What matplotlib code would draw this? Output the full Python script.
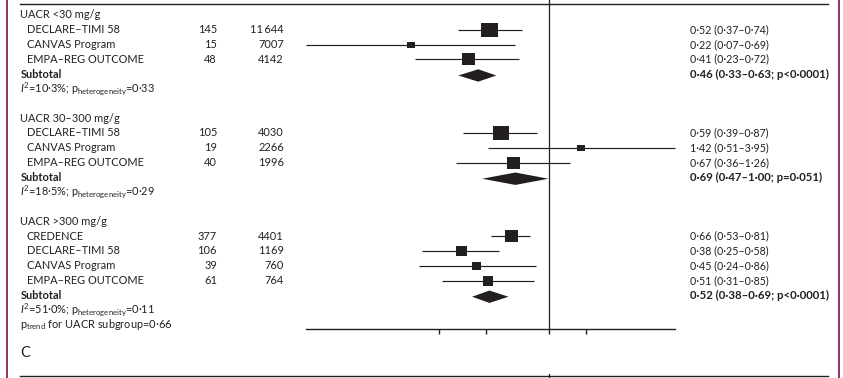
import matplotlib
matplotlib.use("Agg")
import matplotlib.pyplot as plt
from matplotlib.transforms import blended_transform_factory
from matplotlib.patches import Polygon
from matplotlib.lines import Line2D
from matplotlib.path import Path

# ---------------- data ----------------
group_titles = ["UACR <30 mg/g", "UACR 30–300 mg/g", "UACR >300 mg/g"]

g1_studies = ["DECLARE–TIMI 58", "CANVAS Program", "EMPA–REG OUTCOME"]
g1_events = [145, 15, 48]
g1_total = [11644, 7007, 4142]
g1_hr = [0.52, 0.22, 0.41]
g1_lo = [0.37, 0.07, 0.23]
g1_hi = [0.74, 0.69, 0.72]
g1_weight = [17, 8, 13]

g2_studies = ["DECLARE–TIMI 58", "CANVAS Program", "EMPA–REG OUTCOME"]
g2_events = [105, 19, 40]
g2_total = [4030, 2266, 1996]
g2_hr = [0.59, 1.42, 0.67]
g2_lo = [0.39, 0.51, 0.36]
g2_hi = [0.87, 3.95, 1.26]
g2_weight = [16.5, 8, 13]

g3_studies = ["CREDENCE", "DECLARE–TIMI 58", "CANVAS Program", "EMPA–REG OUTCOME"]
g3_events = [377, 106, 39, 61]
g3_total = [4401, 1169, 760, 764]
g3_hr = [0.66, 0.38, 0.45, 0.51]
g3_lo = [0.53, 0.25, 0.24, 0.31]
g3_hi = [0.81, 0.58, 0.86, 0.85]
g3_weight = [13, 11, 9, 10.5]

sub_hr = [0.46, 0.69, 0.52]
sub_lo = [0.33, 0.47, 0.38]
sub_hi = [0.63, 1.00, 0.69]
sub_p = ["p<0·0001", "p=0·051", "p<0·0001"]
diamond_lo = [0.37, 0.48, 0.43]   # drawn extents
diamond_hi = [0.56, 0.99, 0.64]
i2 = [10.3, 18.5, 51.0]
p_het = [0.33, 0.29, 0.11]
p_trend = 0.66
x_ticks = [0.3, 0.5, 1.0, 1.5]
panel_letter = "C"

# ---------------- style ----------------
plt.rcParams["font.family"] = ["Lato", "DejaVu Sans"]
plt.rcParams["mathtext.fontset"] = "custom"
plt.rcParams["mathtext.rm"] = "Lato"
plt.rcParams["mathtext.it"] = "Lato:italic"
plt.rcParams["mathtext.bf"] = "Lato:bold"
TXT = "#231f20"
MAROON = "#8a2350"
FS = 7.9

W, H = 843, 378
fig = plt.figure(figsize=(W / 100, H / 100), dpi=100)


def fx(px):
    return px / W


def fy(py):
    return 1 - py / H


def fmt(v, d=2):
    return f"{v:.{d}f}".replace(".", "·")


def fmt_int(v):
    s = str(v)
    if len(s) > 4:
        s = s[:-3] + "\u2009" + s[-3:]
    return s


ax_l, ax_r, ax_t, ax_b = 306, 675, 0, 329
ax = fig.add_axes([fx(ax_l), fy(ax_b), (ax_r - ax_l) / W, (ax_b - ax_t) / H])
ax.set_xscale("log")
ax.set_xlim(min(g1_lo + g2_lo + g3_lo), max(g1_hi + g2_hi + g3_hi))
row0, row_h = 15.0, 14.75
ax.set_ylim((ax_b - row0) / row_h, (ax_t - row0) / row_h)
for s in ["top", "right", "left"]:
    ax.spines[s].set_visible(False)
ax.spines["bottom"].set_linewidth(1.0)
ax.spines["bottom"].set_color(TXT)
ax.set_yticks([])
ax.set_xticks(x_ticks)
ax.xaxis.set_minor_locator(matplotlib.ticker.NullLocator())
ax.set_xticklabels([])
ax.tick_params(axis="x", direction="out", length=3.5, width=1.0, color=TXT)
ax.axvline(1.0, color=TXT, lw=0.9, zorder=1)

tr = blended_transform_factory(fig.transFigure, ax.transData)

box = Path([(-0.58, -0.5), (0.58, -0.5), (0.58, 0.5), (-0.58, 0.5), (-0.58, -0.5)],
           [Path.MOVETO, Path.LINETO, Path.LINETO, Path.LINETO, Path.CLOSEPOLY])

groups = [
    (g1_studies, g1_events, g1_total, g1_hr, g1_lo, g1_hi, g1_weight),
    (g2_studies, g2_events, g2_total, g2_hr, g2_lo, g2_hi, g2_weight),
    (g3_studies, g3_events, g3_total, g3_hr, g3_lo, g3_hi, g3_weight),
]

x_title, x_study, x_ev, x_tot, x_hr = 20.5, 26.5, 217, 284, 690.5
row = 0
for gi, (studies, ev, tot, hr, lo, hi, wt) in enumerate(groups):
    ax.text(fx(x_title), row, group_titles[gi], transform=tr, ha="left", va="center",
            fontsize=FS, color=TXT)
    row += 1
    for s, e, n, h, l, u, w in zip(studies, ev, tot, hr, lo, hi, wt):
        ax.text(fx(x_study), row, s, transform=tr, ha="left", va="center", fontsize=FS, color=TXT)
        ax.text(fx(x_ev), row, str(e), transform=tr, ha="right", va="center", fontsize=FS, color=TXT)
        ax.text(fx(x_tot), row, fmt_int(n), transform=tr, ha="right", va="center", fontsize=FS, color=TXT)
        ax.text(fx(x_hr), row, f"{fmt(h)} ({fmt(l)}–{fmt(u)})", transform=tr, ha="left",
                va="center", fontsize=FS - 0.2, color=TXT)
        ax.plot([l, u], [row, row], color=TXT, lw=0.85, solid_capstyle="butt", zorder=2, clip_on=False)
        ax.plot([h], [row], marker=box, markersize=w * 0.72, color=TXT, mew=0, zorder=3, clip_on=False)
        row += 1
    ax.text(fx(x_title), row, "Subtotal", transform=tr, ha="left", va="center",
            fontsize=FS, color=TXT, fontweight="bold")
    ax.text(fx(x_hr), row, f"{fmt(sub_hr[gi])} ({fmt(sub_lo[gi])}–{fmt(sub_hi[gi])}; {sub_p[gi]})",
            transform=tr, ha="left", va="center", fontsize=FS + 0.3, color=TXT, fontweight="bold")
    dh = 6.2 / row_h
    dy = row + 0.1
    ax.add_patch(Polygon([(diamond_lo[gi], dy), (sub_hr[gi], dy - dh), (diamond_hi[gi], dy),
                          (sub_hr[gi], dy + dh)], closed=True, color=TXT, lw=0, zorder=3))
    row += 1
    ax.text(fx(x_title), row,
            r"$I^2$=" + fmt(i2[gi], 1) + r"%; $\mathrm{p}_{\mathrm{heterogeneity}}$=" + fmt(p_het[gi]),
            transform=tr, ha="left", va="center", fontsize=FS, color=TXT)
    row += 1
    if gi == len(groups) - 1:
        ax.text(fx(x_title), row, r"$\mathrm{p}_{\mathrm{trend}}$ for UACR subgroup=" + fmt(p_trend),
                transform=tr, ha="left", va="center", fontsize=FS, color=TXT)
    row += 1

# panel letter and rules
fig.text(fx(20), fy(353), panel_letter, ha="left", va="center", fontsize=10.5, color=TXT)
fig.add_artist(Line2D([fx(20), fx(828)], [fy(4), fy(4)], color=TXT, lw=1.0))
fig.add_artist(Line2D([fx(20), fx(828)], [fy(375.5), fy(375.5)], color=TXT, lw=1.0))
fig.add_artist(Line2D([fx(7), fx(7)], [0, 1], color=MAROON, lw=1.3))
fig.add_artist(Line2D([fx(839), fx(839)], [0, 1], color=MAROON, lw=1.3))
trb = blended_transform_factory(ax.transData, fig.transFigure)
fig.add_artist(Line2D([1.0, 1.0], [fy(374), 0], color=TXT, lw=0.9, transform=trb))

fig.savefig("out.png", dpi=100)
